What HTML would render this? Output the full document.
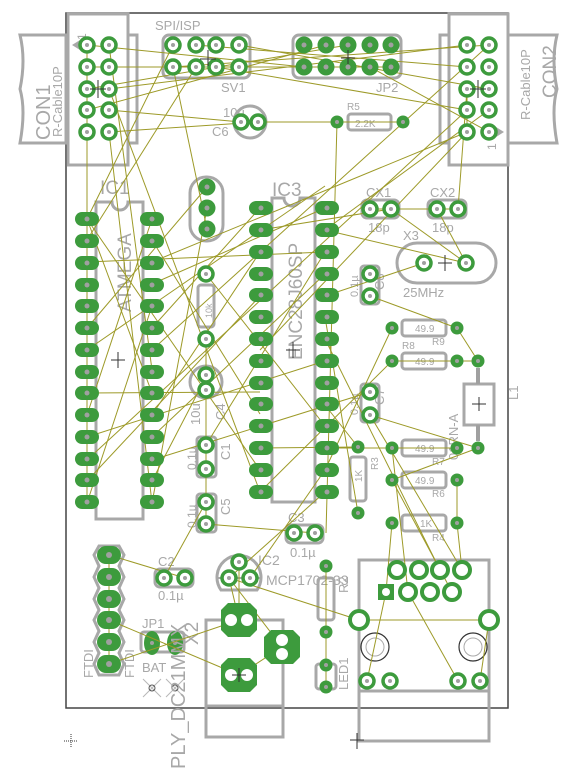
<!DOCTYPE html>
<html><head><meta charset="utf-8"><style>
html,body{margin:0;padding:0;background:#fff;}
svg{display:block;}
text{font-family:"Liberation Sans",sans-serif;fill:#a8a8a8;}
.o{fill:none;stroke:#a8a8a8;stroke-width:3;}
.w{stroke:#9d9a28;stroke-width:1;fill:none;}
.d{fill:#a0a0a0;}
.x{stroke:#333;stroke-width:1;fill:none;}
</style></head><body>
<svg width="584" height="769" viewBox="0 0 584 769" xmlns="http://www.w3.org/2000/svg">
<defs>
<g id="p"><circle r="7" fill="#fff" stroke="#3d9b3d" stroke-width="3.5"/><circle r="2" fill="#a0a0a0"/></g>
<g id="q"><circle r="8.5" fill="#3d9b3d"/><circle r="2.5" fill="#a0a0a0"/></g>
<g id="e"><rect x="-12" y="-7" width="24" height="14" rx="7" fill="#3d9b3d"/><circle r="2.5" fill="#a0a0a0"/></g>
<g id="f"><rect x="-12" y="-9" width="24" height="18" rx="9" fill="#3d9b3d"/><circle r="3" fill="#a0a0a0"/></g>
<g id="s"><circle r="6.5" fill="#3d9b3d"/><circle r="2" fill="#a0a0a0"/></g>
</defs>
<!-- board -->
<rect x="66" y="13" width="442" height="695" fill="none" stroke="#444" stroke-width="1.5"/>
<!-- CON1 -->
<path class="o" d="M20,35 L66,35 L66,143 L20,143 Q26,110 20,89 Q26,60 20,35Z" stroke-width="2"/>
<rect class="o" x="68" y="14" width="60" height="151"/>
<rect class="o" x="128" y="35" width="9" height="108"/>
<text x="50" y="140" font-size="20" transform="rotate(-90 50 140)">CON1</text>
<text x="62" y="137" font-size="13" transform="rotate(-90 62 137)">R-Cable10P</text>
<text x="86" y="40" font-size="12" transform="rotate(-90 86 40)">1</text>
<path d="M72,45 L80,40 L80,50Z" fill="#a8a8a8"/>
<!-- CON2 -->
<path class="o" d="M557,35 L508,35 L508,143 L557,143 Q551,110 557,89 Q551,60 557,35Z" stroke-width="2"/>
<rect class="o" x="449" y="14" width="59" height="151"/>
<rect class="o" x="440" y="35" width="9" height="108"/>
<text x="556" y="98" font-size="19" transform="rotate(-90 556 98)">CON2</text>
<text x="530" y="120" font-size="13" transform="rotate(-90 530 120)">R-Cable10P</text>
<text x="496" y="150" font-size="12" transform="rotate(-90 496 150)">1</text>
<path d="M504,132 L496,127 L496,137Z" fill="#a8a8a8"/>
<!-- SV1 -->
<rect class="o" x="163" y="35" width="87" height="43" rx="6"/>
<text x="155" y="30" font-size="13">SPI/ISP</text>
<text x="221" y="92" font-size="13">SV1</text>
<!-- JP2 -->
<rect class="o" x="293" y="35" width="108" height="43" rx="6"/>
<text x="376" y="92" font-size="13">JP2</text>
<!-- C6 -->
<circle class="o" cx="250" cy="122" r="16"/>
<text x="223" y="117" font-size="13">10u</text><text x="212" y="136" font-size="13">C6</text>
<!-- R5 -->
<rect class="o" x="348" y="114" width="43" height="16" rx="3"/>
<text x="347" y="110" font-size="10">R5</text><text x="355" y="127" font-size="10">2.2K</text>
<!-- IC1 -->
<path class="o" d="M96,202 L112,202 A8,8 0 0 0 128,202 L143,202 L143,519 L96,519Z"/>
<text x="100" y="194" font-size="19">IC1</text>
<text x="131" y="312" font-size="19" transform="rotate(-90 131 312)">ATMEGA</text>
<!-- crystal vertical -->
<rect class="o" x="190" y="177" width="33" height="64" rx="16"/>
<!-- resistor vert -->
<rect class="o" x="198" y="285" width="16" height="42" rx="3"/>
<text x="212" y="318" font-size="9" transform="rotate(-90 212 318)">10k</text>
<!-- C4 -->
<circle class="o" cx="206" cy="382" r="16"/>
<text x="200" y="425" font-size="13" transform="rotate(-90 200 425)">10u</text>
<text x="225" y="420" font-size="13" transform="rotate(-90 225 420)">C4</text>
<!-- C1 C5 -->
<rect class="o" x="197" y="437" width="19" height="40" rx="3"/>
<text x="196" y="470" font-size="12" transform="rotate(-90 196 470)">0.1µ</text>
<text x="230" y="460" font-size="13" transform="rotate(-90 230 460)">C1</text>
<rect class="o" x="197" y="494" width="19" height="38" rx="3"/>
<text x="196" y="528" font-size="12" transform="rotate(-90 196 528)">0.1µ</text>
<text x="230" y="515" font-size="13" transform="rotate(-90 230 515)">C5</text>
<!-- IC3 -->
<path class="o" d="M272,198 L284,198 A8,8 0 0 0 300,198 L315,198 L315,502 L272,502Z"/>
<text x="272" y="196" font-size="19">IC3</text>
<text x="302" y="360" font-size="19" transform="rotate(-90 302 360)">ENC28J60SP</text>
<!-- CX1 CX2 -->
<rect class="o" x="362" y="200" width="37" height="18" rx="5"/>
<text x="366" y="197" font-size="13">CX1</text><text x="368" y="232" font-size="13">18p</text>
<rect class="o" x="428" y="200" width="38" height="18" rx="5"/>
<text x="430" y="197" font-size="13">CX2</text><text x="432" y="232" font-size="13">18p</text>
<!-- X3 -->
<rect class="o" x="397" y="243" width="99" height="40" rx="20"/>
<text x="403" y="240" font-size="13">X3</text><text x="403" y="297" font-size="13">25MHz</text>
<!-- C8 C7 -->
<rect class="o" x="361" y="266" width="18" height="38" rx="3"/>
<text x="358" y="297" font-size="11" transform="rotate(-90 358 297)">0.1µ</text>
<text x="384" y="290" font-size="13" transform="rotate(-90 384 290)">C8</text>
<rect class="o" x="361" y="384" width="18" height="38" rx="3"/>
<text x="358" y="415" font-size="11" transform="rotate(-90 358 415)">0.1µ</text>
<text x="384" y="405" font-size="13" transform="rotate(-90 384 405)">C7</text>
<!-- resistors right -->
<g font-size="10">
<rect class="o" x="402" y="320" width="44" height="16" rx="3"/><text x="415" y="332">49.9</text><text x="432" y="345">R9</text>
<rect class="o" x="402" y="353" width="44" height="16" rx="3"/><text x="415" y="365">49.9</text><text x="402" y="349">R8</text>
<rect class="o" x="402" y="440" width="44" height="16" rx="3"/><text x="415" y="452">49.9</text><text x="432" y="465">R7</text>
<rect class="o" x="402" y="472" width="44" height="16" rx="3"/><text x="415" y="484">49.9</text><text x="432" y="497">R6</text>
<rect class="o" x="402" y="515" width="44" height="16" rx="3"/><text x="420" y="527">1K</text><text x="432" y="541">R4</text>
<rect class="o" x="350" y="457" width="16" height="44" rx="3"/><text x="362" y="482" transform="rotate(-90 362 482)">1K</text><text x="378" y="470" transform="rotate(-90 378 470)">R3</text>
</g>
<!-- L1 -->
<rect class="o" x="464" y="384" width="30" height="41"/>
<line x1="478" y1="368" x2="478" y2="384" stroke="#a0a0a0" stroke-width="4"/>
<line x1="478" y1="425" x2="478" y2="441" stroke="#a0a0a0" stroke-width="4"/>
<text x="458" y="460" font-size="13" transform="rotate(-90 458 460)">01RN-A</text>
<text x="518" y="400" font-size="13" transform="rotate(-90 518 400)">L1</text>
<!-- C3 -->
<rect class="o" x="286" y="525" width="37" height="18" rx="5"/>
<text x="288" y="522" font-size="13">C3</text><text x="290" y="557" font-size="13">0.1µ</text>
<!-- C2 -->
<rect class="o" x="155" y="569" width="38" height="18" rx="5"/>
<text x="158" y="566" font-size="13">C2</text><text x="158" y="600" font-size="13">0.1µ</text>
<!-- IC2 -->
<path class="o" d="M221,590 A22,22 0 1 1 257,590 Z"/>
<line x1="216" y1="578" x2="262" y2="578" stroke="#a8a8a8" stroke-width="2"/>
<text x="258" y="565" font-size="14">IC2</text>
<text x="266" y="585" font-size="14">MCP1702-33</text>
<!-- FTDI -->
<path class="o" d="M99,546 L119,546 L124,555 L119,566 L124,577 L119,588 L124,599 L119,610 L124,620 L119,631 L124,642 L119,653 L124,664 L119,675 L99,675 L94,664 L99,653 L94,642 L99,631 L94,620 L99,610 L94,599 L99,588 L94,577 L99,566 L94,555 Z" stroke-width="2.5"/>
<text x="93" y="678" font-size="13" transform="rotate(-90 93 678)">FTDI</text>
<text x="134" y="678" font-size="13" transform="rotate(-90 134 678)">FTDI</text>
<!-- JP1 -->
<text x="142" y="628" font-size="13">JP1</text><text x="142" y="672" font-size="13">BAT</text>
<rect class="o" x="141" y="632" width="43" height="20" rx="3" stroke-width="2"/>
<ellipse cx="152" cy="643" rx="8" ry="12" fill="#3d9b3d"/><ellipse cx="175" cy="643" rx="8" ry="12" fill="#3d9b3d"/>
<circle cx="152" cy="643" r="2" class="d"/><circle cx="175" cy="643" r="2" class="d"/>
<path d="M143,679 L161,697 M161,679 L143,697 M166,679 L184,697 M184,679 L166,697" stroke="#b8b8b8"/>
<circle cx="152" cy="688" r="3" fill="none" stroke="#555"/><circle cx="175" cy="688" r="3" fill="none" stroke="#555"/>
<text x="185" y="769" font-size="20" transform="rotate(-90 185 769)">PLY_DC21MMX</text>
<text x="198" y="645" font-size="19" transform="rotate(-90 198 645)">X2</text>
<!-- DC jack -->
<rect class="o" x="206" y="620" width="77" height="117"/>
<line x1="206" y1="706" x2="283" y2="706" stroke="#a8a8a8" stroke-width="3"/>
<!-- vertical R under IC3 -->
<rect class="o" x="318" y="578" width="16" height="42" rx="3"/>
<text x="348" y="593" font-size="13" transform="rotate(-90 348 593)">R2</text>
<!-- LED1 -->
<rect class="o" x="316" y="664" width="20" height="25" rx="3" stroke-width="2"/>
<text x="348" y="690" font-size="13" transform="rotate(-90 348 690)">LED1</text>
<!-- RJ45 -->
<rect class="o" x="359" y="560" width="130" height="131"/>
<rect class="o" x="359" y="691" width="130" height="50"/>
<circle cx="375" cy="647" r="14" fill="none" stroke="#333" stroke-width="1.2"/>
<circle cx="473" cy="647" r="14" fill="none" stroke="#333" stroke-width="1.2"/>
<circle cx="375" cy="647" r="9" fill="none" stroke="#aaa"/><circle cx="473" cy="647" r="9" fill="none" stroke="#aaa"/>
<!-- airwires -->
<g class="w">
<line x1="87" y1="45" x2="304" y2="67"/><line x1="87" y1="67" x2="239" y2="67"/><line x1="109" y1="89" x2="467" y2="45"/>
<line x1="87" y1="110" x2="326" y2="45"/><line x1="109" y1="132" x2="258" y2="122"/><line x1="87" y1="89" x2="348" y2="45"/>
<line x1="109" y1="67" x2="391" y2="67"/><line x1="109" y1="110" x2="241" y2="122"/><line x1="173" y1="67" x2="489" y2="45"/>
<line x1="196" y1="45" x2="467" y2="67"/><line x1="216" y1="67" x2="467" y2="110"/><line x1="239" y1="45" x2="489" y2="89"/>
<line x1="173" y1="45" x2="87" y2="219"/><line x1="196" y1="67" x2="87" y2="240"/><line x1="173" y1="67" x2="207" y2="229"/>
<line x1="258" y1="122" x2="403" y2="122"/><line x1="337" y1="122" x2="326" y2="533"/><line x1="370" y1="67" x2="489" y2="132"/>
<line x1="467" y1="132" x2="152" y2="262"/><line x1="467" y1="110" x2="87" y2="460"/><line x1="467" y1="89" x2="458" y2="209"/>
<line x1="467" y1="132" x2="260" y2="350"/><line x1="489" y1="45" x2="152" y2="350"/><line x1="489" y1="110" x2="325" y2="230"/>
<line x1="87" y1="132" x2="87" y2="503"/><line x1="109" y1="132" x2="152" y2="503"/><line x1="109" y1="45" x2="152" y2="370"/>
<line x1="87" y1="219" x2="260" y2="470"/><line x1="87" y1="262" x2="325" y2="252"/><line x1="152" y1="219" x2="87" y2="415"/>
<line x1="152" y1="240" x2="260" y2="414"/><line x1="152" y1="284" x2="325" y2="208"/><line x1="152" y1="306" x2="87" y2="503"/>
<line x1="152" y1="328" x2="260" y2="208"/><line x1="87" y1="350" x2="325" y2="186"/><line x1="152" y1="415" x2="260" y2="252"/>
<line x1="152" y1="437" x2="325" y2="274"/><line x1="87" y1="481" x2="260" y2="296"/><line x1="152" y1="460" x2="370" y2="392"/>
<line x1="87" y1="393" x2="260" y2="392"/><line x1="152" y1="481" x2="207" y2="375"/><line x1="87" y1="437" x2="325" y2="361"/>
<line x1="109" y1="89" x2="260" y2="492"/><line x1="207" y1="208" x2="152" y2="503"/><line x1="207" y1="187" x2="87" y2="328"/>
<line x1="260" y1="230" x2="391" y2="209"/><line x1="325" y1="230" x2="466" y2="263"/><line x1="370" y1="209" x2="458" y2="209"/>
<line x1="391" y1="209" x2="466" y2="263"/><line x1="437" y1="209" x2="466" y2="263"/><line x1="325" y1="296" x2="424" y2="263"/>
<line x1="370" y1="296" x2="457" y2="328"/><line x1="457" y1="328" x2="478" y2="361"/><line x1="392" y1="361" x2="478" y2="361"/>
<line x1="392" y1="328" x2="325" y2="470"/><line x1="392" y1="361" x2="260" y2="492"/><line x1="370" y1="415" x2="478" y2="448"/>
<line x1="478" y1="448" x2="392" y2="480"/><line x1="325" y1="448" x2="457" y2="448"/><line x1="325" y1="405" x2="358" y2="447"/>
<line x1="358" y1="513" x2="325" y2="317"/><line x1="325" y1="339" x2="440" y2="570"/><line x1="370" y1="415" x2="462" y2="570"/>
<line x1="457" y1="480" x2="457" y2="523"/><line x1="392" y1="523" x2="386" y2="592"/><line x1="457" y1="523" x2="462" y2="570"/>
<line x1="392" y1="448" x2="408" y2="592"/><line x1="392" y1="480" x2="452" y2="592"/><line x1="206" y1="274" x2="325" y2="426"/>
<line x1="206" y1="339" x2="206" y2="524"/><line x1="206" y1="524" x2="315" y2="533"/><line x1="206" y1="502" x2="164" y2="578"/>
<line x1="229" y1="578" x2="325" y2="492"/><line x1="250" y1="578" x2="325" y2="470"/><line x1="229" y1="578" x2="359" y2="620"/>
<line x1="359" y1="620" x2="489" y2="620"/><line x1="229" y1="578" x2="239" y2="620"/><line x1="229" y1="578" x2="282" y2="647"/>
<line x1="109" y1="555" x2="185" y2="578"/><line x1="109" y1="620" x2="239" y2="675"/><line x1="109" y1="664" x2="239" y2="620"/>
<line x1="239" y1="675" x2="282" y2="647"/><line x1="326" y1="566" x2="326" y2="687"/><line x1="239" y1="561" x2="239" y2="620"/>
<line x1="367" y1="681" x2="386" y2="592"/><line x1="458" y1="681" x2="408" y2="592"/><line x1="480" y1="681" x2="489" y2="620"/>
<line x1="109" y1="555" x2="109" y2="664"/><line x1="358" y1="447" x2="260" y2="448"/><line x1="206" y1="445" x2="325" y2="252"/>
<line x1="87" y1="45" x2="87" y2="132"/><line x1="467" y1="89" x2="467" y2="132"/><line x1="152" y1="393" x2="87" y2="219"/>
</g>
<!-- pads -->
<g>
<use href="#p" x="87" y="45"/><use href="#p" x="109" y="45"/><use href="#p" x="87" y="67"/><use href="#p" x="109" y="67"/>
<use href="#p" x="87" y="89"/><use href="#p" x="109" y="89"/><use href="#p" x="87" y="110"/><use href="#p" x="109" y="110"/>
<use href="#p" x="87" y="132"/><use href="#p" x="109" y="132"/>
<use href="#p" x="467" y="45"/><use href="#p" x="489" y="45"/><use href="#p" x="467" y="67"/><use href="#p" x="489" y="67"/>
<use href="#p" x="467" y="89"/><use href="#p" x="489" y="89"/><use href="#p" x="467" y="110"/><use href="#p" x="489" y="110"/>
<use href="#p" x="467" y="132"/><use href="#p" x="489" y="132"/>
<use href="#p" x="173" y="45"/><use href="#p" x="196" y="45"/><use href="#p" x="216" y="45"/><use href="#p" x="239" y="45"/>
<use href="#p" x="173" y="67"/><use href="#p" x="196" y="67"/><use href="#p" x="216" y="67"/><use href="#p" x="239" y="67"/>
<use href="#q" x="304" y="45"/><use href="#q" x="326" y="45"/><use href="#q" x="348" y="45"/><use href="#q" x="370" y="45"/><use href="#q" x="391" y="45"/>
<use href="#q" x="304" y="67"/><use href="#q" x="326" y="67"/><use href="#q" x="348" y="67"/><use href="#q" x="370" y="67"/><use href="#q" x="391" y="67"/>
<use href="#p" x="241" y="122"/><use href="#p" x="258" y="122"/>
<use href="#s" x="337" y="122"/><use href="#s" x="403" y="122"/>
<use href="#q" x="207" y="187"/><use href="#q" x="207" y="208"/><use href="#q" x="207" y="229"/>
</g>
<g>
<use href="#e" x="87" y="219"/><use href="#e" x="87" y="241"/><use href="#e" x="87" y="263"/><use href="#e" x="87" y="285"/><use href="#e" x="87" y="306"/><use href="#e" x="87" y="328"/><use href="#e" x="87" y="350"/><use href="#e" x="87" y="372"/><use href="#e" x="87" y="393"/><use href="#e" x="87" y="415"/><use href="#e" x="87" y="437"/><use href="#e" x="87" y="459"/><use href="#e" x="87" y="480"/><use href="#e" x="87" y="502"/>
<use href="#e" x="152" y="219"/><use href="#e" x="152" y="241"/><use href="#e" x="152" y="263"/><use href="#e" x="152" y="285"/><use href="#e" x="152" y="306"/><use href="#e" x="152" y="328"/><use href="#e" x="152" y="350"/><use href="#e" x="152" y="372"/><use href="#e" x="152" y="393"/><use href="#e" x="152" y="415"/><use href="#e" x="152" y="437"/><use href="#e" x="152" y="459"/><use href="#e" x="152" y="480"/><use href="#e" x="152" y="502"/>
<use href="#e" x="261" y="208"/><use href="#e" x="261" y="230"/><use href="#e" x="261" y="252"/><use href="#e" x="261" y="274"/><use href="#e" x="261" y="295"/><use href="#e" x="261" y="317"/><use href="#e" x="261" y="339"/><use href="#e" x="261" y="361"/><use href="#e" x="261" y="383"/><use href="#e" x="261" y="404"/><use href="#e" x="261" y="426"/><use href="#e" x="261" y="448"/><use href="#e" x="261" y="470"/><use href="#e" x="261" y="492"/>
<use href="#e" x="327" y="208"/><use href="#e" x="327" y="230"/><use href="#e" x="327" y="252"/><use href="#e" x="327" y="274"/><use href="#e" x="327" y="295"/><use href="#e" x="327" y="317"/><use href="#e" x="327" y="339"/><use href="#e" x="327" y="361"/><use href="#e" x="327" y="383"/><use href="#e" x="327" y="404"/><use href="#e" x="327" y="426"/><use href="#e" x="327" y="448"/><use href="#e" x="327" y="470"/><use href="#e" x="327" y="492"/>
<use href="#f" x="109" y="555"/><use href="#f" x="109" y="577"/><use href="#f" x="109" y="599"/><use href="#f" x="109" y="620"/><use href="#f" x="109" y="642"/><use href="#f" x="109" y="664"/>
</g>
<g>
<use href="#p" x="206" y="274"/><use href="#p" x="206" y="339"/><use href="#p" x="206" y="375"/><use href="#p" x="206" y="390"/>
<use href="#p" x="206" y="445"/><use href="#p" x="206" y="469"/><use href="#p" x="206" y="502"/><use href="#p" x="206" y="524"/>
<use href="#p" x="370" y="209"/><use href="#p" x="391" y="209"/><use href="#p" x="437" y="209"/><use href="#p" x="458" y="209"/>
<use href="#p" x="424" y="263"/><use href="#p" x="466" y="263"/>
<use href="#p" x="370" y="274"/><use href="#p" x="370" y="296"/><use href="#p" x="370" y="392"/><use href="#p" x="370" y="415"/>
<use href="#s" x="392" y="328"/><use href="#s" x="457" y="328"/><use href="#s" x="392" y="361"/><use href="#s" x="457" y="361"/><use href="#s" x="478" y="361"/>
<use href="#s" x="392" y="448"/><use href="#s" x="457" y="448"/><use href="#s" x="478" y="448"/><use href="#s" x="392" y="480"/><use href="#s" x="457" y="480"/>
<use href="#s" x="392" y="523"/><use href="#s" x="457" y="523"/><use href="#s" x="358" y="447"/><use href="#s" x="358" y="513"/>
<use href="#p" x="294" y="533"/><use href="#p" x="315" y="533"/><use href="#p" x="164" y="578"/><use href="#p" x="185" y="578"/>
<use href="#p" x="229" y="578"/><use href="#p" x="250" y="578"/><use href="#p" x="239" y="562"/>
<use href="#s" x="326" y="566"/><use href="#s" x="326" y="632"/><use href="#s" x="326" y="665"/><use href="#s" x="326" y="687"/>
</g>
<!-- DC jack pads -->
<g fill="#3d9b3d">
<polygon points="228,603 250,603 257,610 257,630 250,637 228,637 221,630 221,610"/>
<polygon points="271,630 293,630 300,637 300,657 293,664 271,664 264,657 264,637"/>
<polygon points="228,658 250,658 257,665 257,685 250,692 228,692 221,685 221,665"/>
</g>
<g fill="#fff"><circle cx="231" cy="620" r="6"/><circle cx="247" cy="620" r="6"/><circle cx="282" cy="640" r="6"/><circle cx="282" cy="654" r="6"/><circle cx="231" cy="675" r="6"/><circle cx="247" cy="675" r="6"/></g>
<!-- RJ45 pads -->
<g>
<circle cx="397" cy="570" r="8" fill="#fff" stroke="#3d9b3d" stroke-width="4"/><circle cx="419" cy="570" r="8" fill="#fff" stroke="#3d9b3d" stroke-width="4"/><circle cx="440" cy="570" r="8" fill="#fff" stroke="#3d9b3d" stroke-width="4"/><circle cx="462" cy="570" r="8" fill="#fff" stroke="#3d9b3d" stroke-width="4"/>
<rect x="378" y="584" width="16" height="16" fill="#3d9b3d"/><circle cx="386" cy="592" r="4" fill="#fff"/>
<circle cx="408" cy="592" r="8" fill="#fff" stroke="#3d9b3d" stroke-width="4"/><circle cx="430" cy="592" r="8" fill="#fff" stroke="#3d9b3d" stroke-width="4"/><circle cx="452" cy="592" r="8" fill="#fff" stroke="#3d9b3d" stroke-width="4"/>
<circle cx="359" cy="620" r="9" fill="#fff" stroke="#3d9b3d" stroke-width="4"/><circle cx="489" cy="620" r="9" fill="#fff" stroke="#3d9b3d" stroke-width="4"/>
<use href="#p" x="367" y="681"/><use href="#p" x="390" y="681"/><use href="#p" x="458" y="681"/><use href="#p" x="480" y="681"/>
</g>
<!-- crosses -->
<g class="x">
<path d="M90,89 h16 M98,80 v18"/><path d="M200,59 h16 M208,50 v16"/><path d="M341,58 h14 M348,50 v14"/><path d="M470,89 h16 M478,80 v18"/>
<path d="M111,360 h14 M118,352 v16"/><path d="M286,350 h14 M293,342 v16"/><path d="M438,263 h14 M445,255 v16"/><path d="M472,404 h14 M479,397 v14"/>
<path d="M350,740 h14 M357,733 v16"/><path d="M64,741 h14 M71,734 v14" stroke-dasharray="1,1"/>
<path d="M232,675 h14 M239,668 v14"/>
</g>
</svg>
</body></html>
